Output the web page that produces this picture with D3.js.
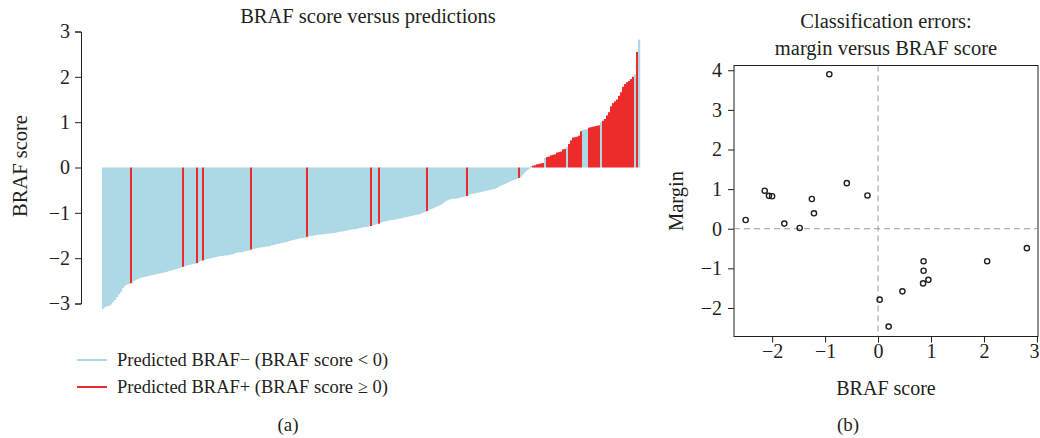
<!DOCTYPE html>
<html>
<head>
<meta charset="utf-8">
<script src="https://cdn.jsdelivr.net/npm/d3@7"></script>
<style>
  body { margin: 0; background: #fff; }
  text { font-family: "Liberation Serif", "DejaVu Serif", serif; fill: #231f20; }
</style>
</head>
<body>
<svg width="1040" height="438"></svg>
<script>
// sorted BRAF scores, one per sample (left panel)
var scores = [
  -3.12,-3.08,-3.06,-3.05,-3.02,-2.97,-2.92,-2.86,-2.80,-2.74,-2.66,-2.61,-2.58,-2.57,-2.55,
  -2.51,-2.49,-2.47,-2.45,-2.43,-2.42,-2.41,-2.40,-2.39,-2.38,-2.37,-2.36,-2.35,-2.34,-2.33,
  -2.32,-2.31,-2.30,-2.28,-2.27,-2.26,-2.25,-2.24,-2.22,-2.21,-2.19,
  -2.17,-2.16,-2.15,-2.14,-2.13,-2.12,-2.11,-2.08,-2.06,-2.05,
  -2.03,-2.02,-2.01,-2.00,-1.99,-1.98,-1.97,-1.96,-1.95,-1.95,-1.94,-1.94,-1.93,-1.92,-1.91,
  -1.89,-1.88,-1.87,-1.87,-1.86,-1.85,-1.84,-1.83,-1.81,
  -1.80,-1.79,-1.78,-1.77,-1.76,-1.76,-1.75,-1.74,-1.74,-1.72,-1.71,-1.70,-1.69,-1.68,-1.67,
  -1.66,-1.65,-1.64,-1.62,-1.61,-1.60,-1.59,-1.58,-1.57,-1.56,-1.56,-1.55,-1.53,
  -1.52,-1.51,-1.50,-1.50,-1.49,-1.48,-1.48,-1.47,-1.47,-1.46,-1.46,-1.45,-1.45,-1.44,-1.43,
  -1.42,-1.41,-1.41,-1.40,-1.39,-1.38,-1.37,-1.36,-1.36,-1.35,-1.34,-1.33,-1.32,-1.31,-1.31,
  -1.30,-1.29,
  -1.27,-1.26,-1.25,-1.24,
  -1.21,-1.20,-1.19,-1.18,-1.17,-1.16,-1.16,-1.15,-1.14,-1.13,-1.12,-1.11,-1.10,-1.09,-1.08,
  -1.07,-1.06,-1.05,-1.04,-1.03,-1.02,-1.00,-0.98,-0.96,
  -0.93,-0.92,-0.90,-0.88,-0.86,-0.84,-0.82,-0.79,-0.76,-0.73,-0.71,-0.70,-0.69,-0.69,-0.68,
  -0.67,-0.66,-0.65,-0.64,-0.63,
  -0.60,-0.59,-0.58,-0.57,-0.56,-0.55,-0.54,-0.53,-0.52,-0.51,-0.50,-0.49,-0.48,-0.47,-0.45,
  -0.42,-0.40,-0.38,-0.36,-0.34,-0.32,-0.30,-0.28,-0.27,-0.25,-0.23,
  -0.20,-0.15,-0.10,-0.06,-0.03,
  0.03,0.04,0.05,0.07,0.08,0.09,0.10,
  0.21,0.23,0.24,0.27,0.28,0.29,0.33,0.34,0.35,0.40,0.41,0.45,
  0.52,0.60,0.66,0.67,0.68,0.70,0.80,0.83,0.84,0.85,0.88,0.89,0.90,0.91,0.92,0.93,1.00,
  1.03,1.07,1.15,1.22,1.35,1.42,1.46,1.50,1.58,1.66,1.78,1.84,1.88,1.91,1.95,2.00,2.05,2.55,2.82
];
// samples whose colour differs from the sign of their score (the classification errors)
var wrongIdx = [14,40,47,50,74,102,134,138,162,182,208,214,221,232,240,241,242,249,266,268];

// right panel: classification errors
var errScore  = [-2.50,-2.14,-2.06,-2.00,-1.77,-1.48,-1.25,-1.21,-0.92,-0.59,-0.20,
                 0.03,0.20,0.46,0.86,0.86,0.85,0.95,2.06,2.81];
var errMargin = [0.22,0.96,0.83,0.82,0.13,0.02,0.75,0.39,3.90,1.15,0.84,
                 -1.79,-2.47,-1.58,-0.82,-1.06,-1.38,-1.29,-0.82,-0.49];

var leftTicks = [-3,-2,-1,0,1,2,3];
var xTicksB = [-2,-1,0,1,2,3];
var yTicksB = [-2,-1,0,1,2,3,4];
var legendLabels = ["Predicted BRAF\u2212 (BRAF score < 0)", "Predicted BRAF+ (BRAF score \u2265 0)"];

var blue = "#add8e6", red = "#ee2b2b", ink = "#231f20";
var svg = d3.select("svg");
var minusFmt = function (d) { return d < 0 ? "\u2212" + Math.abs(d) : d; };

// ---------- panel (a) ----------
var x = d3.scaleBand().domain(d3.range(scores.length)).range([102, 640]).padding(0);
var y = d3.scaleLinear().domain([-3, 3]).range([303.5, 31.5]);
var wrong = new Set(wrongIdx);
function isRed(i) { return (scores[i] >= 0) !== wrong.has(i); }

var pa = svg.append("g");
pa.selectAll("rect.bar")
  .data(scores)
  .enter().append("rect")
  .attr("class", "bar")
  .attr("x", function (d, i) { return x(i); })
  .attr("width", x.bandwidth() + 0.2)
  .attr("y", function (d) { return y(Math.max(d, 0)); })
  .attr("height", function (d) { return Math.abs(y(d) - y(0)); })
  .attr("fill", function (d, i) { return isRed(i) ? red : blue; });

var ya = pa.append("g")
  .attr("transform", "translate(81,0)")
  .call(d3.axisLeft(y).tickValues(leftTicks).tickSize(6).tickPadding(5).tickFormat(minusFmt));
ya.selectAll("path, line").attr("stroke", ink);
ya.selectAll("text").style("font-size", "20px").style("font-family", "Liberation Serif").attr("fill", ink);

pa.append("text").attr("x", 368).attr("y", 23).attr("text-anchor", "middle")
  .style("font-size", "20.5px").text("BRAF score versus predictions");
pa.append("text").attr("transform", "translate(27,166) rotate(-90)")
  .attr("text-anchor", "middle").style("font-size", "20.5px").text("BRAF score");

var lg = pa.selectAll("g.leg").data(legendLabels).enter().append("g")
  .attr("class", "leg")
  .attr("transform", function (d, i) { return "translate(0," + (360 + i * 27) + ")"; });
lg.append("line").attr("x1", 77).attr("x2", 107)
  .attr("stroke", function (d, i) { return i ? red : blue; }).attr("stroke-width", 2);
lg.append("text").attr("x", 117).attr("y", 6).style("font-size", "18.5px").text(function (d) { return d; });

svg.append("text").attr("x", 288).attr("y", 431).attr("text-anchor", "middle")
  .style("font-size", "19px").text("(a)");

// ---------- panel (b) ----------
var xb = d3.scaleLinear().domain([-2.72, 3.02]).range([734, 1038]);
var yb = d3.scaleLinear().domain([-2.72, 4.12]).range([336.5, 65.5]);
var pb = svg.append("g");

pb.append("rect").attr("x", 734).attr("y", 65.5).attr("width", 304).attr("height", 271)
  .attr("fill", "none").attr("stroke", ink).attr("stroke-width", 1);

pb.append("line").attr("x1", xb(0)).attr("x2", xb(0)).attr("y1", 65.5).attr("y2", 336.5)
  .attr("stroke", "#9a9a9a").attr("stroke-dasharray", "6,4");
pb.append("line").attr("x1", 734).attr("x2", 1038).attr("y1", yb(0)).attr("y2", yb(0))
  .attr("stroke", "#9a9a9a").attr("stroke-dasharray", "6,4");

var xa = pb.append("g").attr("transform", "translate(0,336.5)")
  .call(d3.axisBottom(xb).tickValues(xTicksB).tickSize(6).tickPadding(1).tickFormat(minusFmt));
var yax = pb.append("g").attr("transform", "translate(734,0)")
  .call(d3.axisLeft(yb).tickValues(yTicksB).tickSize(6).tickPadding(6).tickFormat(minusFmt));
[xa, yax].forEach(function (a) {
  a.select(".domain").remove();
  a.selectAll("line").attr("stroke", ink);
  a.selectAll("text").style("font-size", "20px").style("font-family", "Liberation Serif").attr("fill", ink);
});
// last x label sits on the page edge; keep it inside
xa.selectAll(".tick").filter(function (d) { return d === 3; }).select("text")
  .attr("text-anchor", "end").attr("x", 2);

pb.selectAll("circle")
  .data(errScore)
  .enter().append("circle")
  .attr("cx", function (d) { return xb(d); })
  .attr("cy", function (d, i) { return yb(errMargin[i]); })
  .attr("r", 2.6)
  .attr("fill", "none").attr("stroke", ink).attr("stroke-width", 1.4);

pb.append("text").attr("x", 886).attr("y", 28).attr("text-anchor", "middle")
  .style("font-size", "20.5px").text("Classification errors:");
pb.append("text").attr("x", 886).attr("y", 55).attr("text-anchor", "middle")
  .style("font-size", "20.5px").text("margin versus BRAF score");
pb.append("text").attr("x", 886).attr("y", 395).attr("text-anchor", "middle")
  .style("font-size", "20px").text("BRAF score");
pb.append("text").attr("transform", "translate(683,201) rotate(-90)")
  .attr("text-anchor", "middle").style("font-size", "20.5px").text("Margin");
svg.append("text").attr("x", 848).attr("y", 431).attr("text-anchor", "middle")
  .style("font-size", "19px").text("(b)");
</script>
</body>
</html>
